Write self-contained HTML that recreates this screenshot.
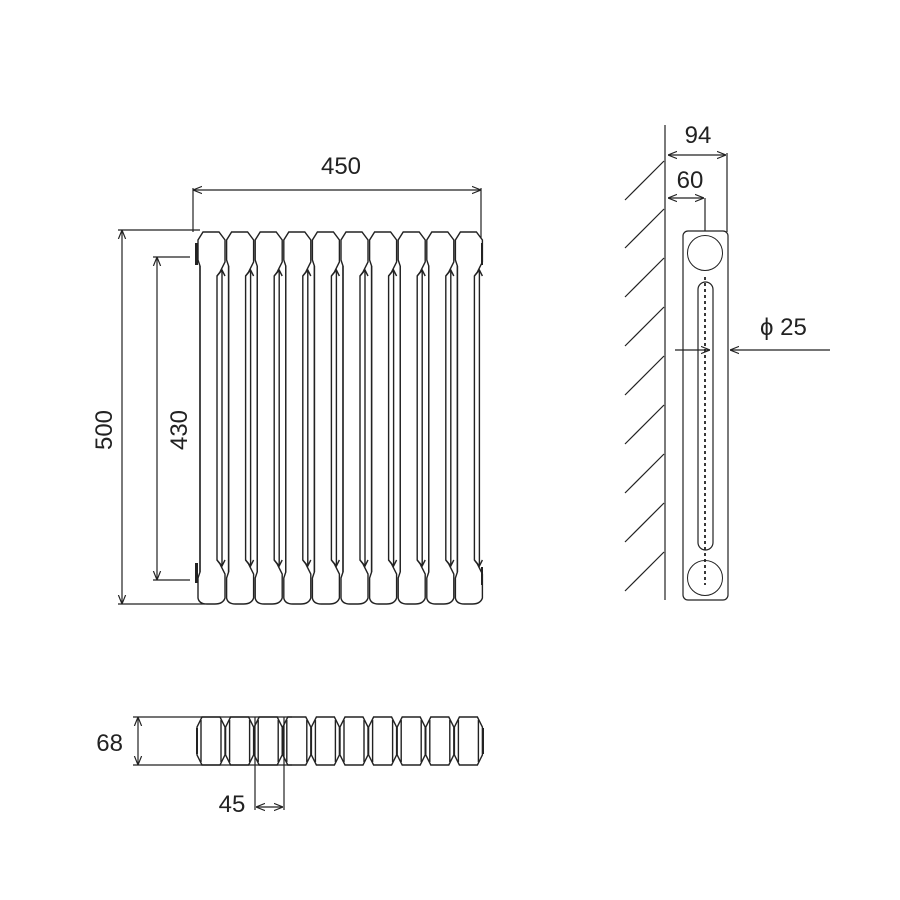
<!DOCTYPE html>
<html><head><meta charset="utf-8"><style>body{margin:0;background:#fff}svg{display:block}text{font-family:"Liberation Sans",sans-serif;font-size:24px;fill:#222}</style></head><body>
<svg width="900" height="900" viewBox="0 0 900 900" xmlns="http://www.w3.org/2000/svg">
<defs>
<marker id="a" viewBox="0 0 10 10" refX="10" refY="5" markerWidth="9" markerHeight="9" orient="auto-start-reverse" markerUnits="userSpaceOnUse"><path d="M0,1 L10,5 L0,9" fill="none" stroke="#222" stroke-width="1.3"/></marker>
<g id="col" fill="#fff" stroke="#222" stroke-width="1.4">
<path d="M6,232 L22,232 L28,240 L28,262 L23,272 L20,276 L20,560 L23,564 L28,574 L28,598 Q26,604 18,604 L10,604 Q2,604 1,598 L1,578 L3,572 L3,266 L1,260 L1,240 Z"/>
<path d="M20,276 L25,270 L28,276 M20,560 L25,566 L28,560" />
<line x1="25" y1="270" x2="25" y2="566"/>
<line x1="3" y1="266" x2="3" y2="572"/>
</g>
<g id="seg" fill="#fff" stroke="#222" stroke-width="1.4">
<path d="M5,717 L23,717 L28,727 L28,755 L23,765 L5,765 L0,755 L0,727 Z"/>
<line x1="4" y1="720" x2="4" y2="762"/><line x1="24" y1="720" x2="24" y2="762"/>
</g>
</defs>
<g stroke="#222" stroke-width="1.2" fill="none">
<line x1="193" y1="188" x2="193" y2="232"/><line x1="481" y1="188" x2="481" y2="242"/>
<line x1="193" y1="190" x2="481" y2="190" marker-start="url(#a)" marker-end="url(#a)"/>
<line x1="118" y1="230" x2="200" y2="230"/><line x1="118" y1="604" x2="205" y2="604"/>
<line x1="122" y1="230" x2="122" y2="604" marker-start="url(#a)" marker-end="url(#a)"/>
<line x1="153" y1="257" x2="190" y2="257"/><line x1="153" y1="580" x2="190" y2="580"/>
<line x1="157" y1="257" x2="157" y2="580" marker-start="url(#a)" marker-end="url(#a)"/>
</g>
<use href="#col" x="454.4"/><use href="#col" x="425.8"/><use href="#col" x="397.2"/><use href="#col" x="368.6"/><use href="#col" x="340"/><use href="#col" x="311.4"/><use href="#col" x="282.8"/><use href="#col" x="254.2"/><use href="#col" x="225.6"/><use href="#col" x="197"/>
<rect x="195" y="243" width="3" height="22" fill="#222"/><rect x="195" y="563" width="3" height="20" fill="#222"/>
<rect x="481" y="243" width="2" height="22" fill="#222"/><rect x="481" y="567" width="2" height="18" fill="#222"/>
<text x="341" y="174" text-anchor="middle">450</text>
<text transform="translate(112,430) rotate(-90)" text-anchor="middle">500</text>
<text transform="translate(187,430) rotate(-90)" text-anchor="middle">430</text>
<use href="#seg" x="197"/><use href="#seg" x="225.6"/><use href="#seg" x="254.2"/><use href="#seg" x="282.8"/><use href="#seg" x="311.4"/><use href="#seg" x="340"/><use href="#seg" x="368.6"/><use href="#seg" x="397.2"/><use href="#seg" x="425.8"/><use href="#seg" x="454.4"/>
<rect x="196" y="728" width="2" height="26" fill="#222"/><rect x="482" y="728" width="2" height="26" fill="#222"/>
<g stroke="#222" stroke-width="1.2" fill="none">
<line x1="133" y1="717" x2="292" y2="717"/><line x1="133" y1="765" x2="292" y2="765"/>
<line x1="138" y1="717" x2="138" y2="765" marker-start="url(#a)" marker-end="url(#a)"/>
<line x1="255" y1="717" x2="255" y2="810"/><line x1="284" y1="717" x2="284" y2="810"/>
<line x1="256" y1="807" x2="283" y2="807" marker-start="url(#a)" marker-end="url(#a)"/>
</g>
<text x="123" y="751" text-anchor="end">68</text>
<text x="232" y="812" text-anchor="middle">45</text>
<g stroke="#222" stroke-width="1.2" fill="none">
<line x1="665" y1="125" x2="665" y2="600"/>
<line x1="664" y1="161" x2="625" y2="200"/><line x1="664" y1="209" x2="625" y2="248"/>
<line x1="664" y1="258" x2="625" y2="297"/><line x1="664" y1="307" x2="625" y2="346"/>
<line x1="664" y1="356" x2="625" y2="395"/><line x1="664" y1="405" x2="625" y2="444"/>
<line x1="664" y1="454" x2="625" y2="493"/><line x1="664" y1="503" x2="625" y2="542"/>
<line x1="664" y1="552" x2="625" y2="591"/>
<line x1="727" y1="153" x2="727" y2="232"/>
<line x1="668" y1="155" x2="726" y2="155" marker-start="url(#a)" marker-end="url(#a)"/>
<line x1="705" y1="198" x2="705" y2="231"/>
<line x1="668" y1="198" x2="704" y2="198" marker-start="url(#a)" marker-end="url(#a)"/>
<rect x="683" y="231" width="45" height="369" rx="5"/>
<circle cx="705" cy="253" r="17.5" stroke-width="1"/>
<circle cx="705" cy="578" r="17.5" stroke-width="1"/>
<rect x="698" y="282" width="15" height="268" rx="7.5"/>
<line x1="705" y1="277" x2="705" y2="585" stroke-dasharray="3,3" stroke-width="1.8"/>
<line x1="675" y1="350" x2="710" y2="350" marker-end="url(#a)"/>
<line x1="830" y1="350" x2="730" y2="350" marker-end="url(#a)"/>
</g>
<text x="698" y="143" text-anchor="middle">94</text>
<text x="690" y="188" text-anchor="middle">60</text>
<text x="760" y="335">ϕ 25</text>
</svg>
</body></html>
